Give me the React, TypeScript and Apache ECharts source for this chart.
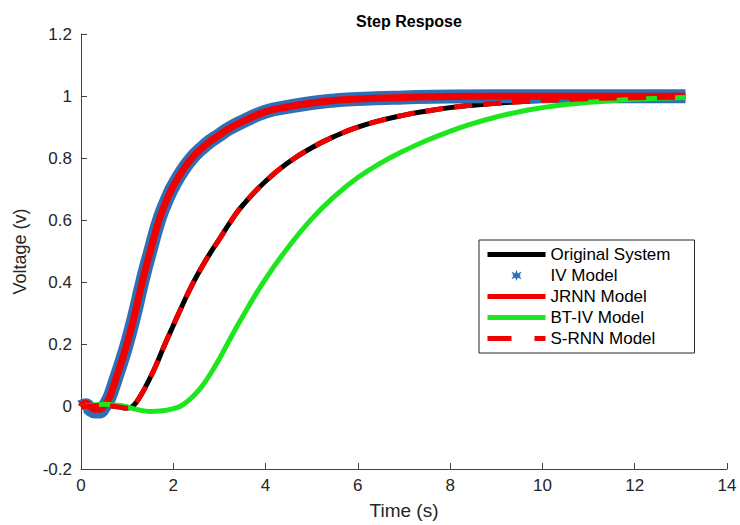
import React, { useEffect, useRef } from "react";
import * as echarts from "echarts";

// ---- Data ----
const timeFast = [0, 0.1, 0.2, 0.3, 0.4, 0.5, 0.6, 0.7, 0.8, 0.9, 1.0, 1.1, 1.2, 1.3, 1.4, 1.5, 1.6, 1.7, 1.8, 1.9, 2.0, 2.2, 2.4, 2.6, 2.8, 3.0, 3.2, 3.5, 4.0, 4.5, 5.0, 5.5, 6.0, 7.0, 8.0, 10.0, 12.0, 13.1];
const ivModel = [0, 0.005, -0.008, -0.015, -0.015, 0.0, 0.025, 0.065, 0.11, 0.155, 0.205, 0.26, 0.32, 0.385, 0.445, 0.5, 0.555, 0.605, 0.645, 0.68, 0.71, 0.76, 0.8, 0.83, 0.855, 0.875, 0.895, 0.918, 0.95, 0.966, 0.978, 0.986, 0.991, 0.996, 0.999, 1.0, 1.0, 1.0];
const jrnnModel = [0, 0.012, 0.002, -0.008, -0.008, 0.004, 0.025, 0.065, 0.11, 0.155, 0.205, 0.26, 0.32, 0.385, 0.445, 0.5, 0.555, 0.605, 0.645, 0.68, 0.71, 0.76, 0.8, 0.83, 0.855, 0.875, 0.895, 0.918, 0.95, 0.966, 0.978, 0.986, 0.991, 0.996, 0.999, 1.0, 1.0, 1.0];

const timeSlow = [0, 0.5, 0.8, 1.0, 1.1, 1.2, 1.3, 1.4, 1.6, 1.8, 2.0, 2.2, 2.4, 2.6, 2.8, 3.0, 3.25, 3.5, 4.0, 4.5, 5.0, 5.5, 6.0, 6.5, 7.0, 7.5, 8.0, 8.5, 9.0, 9.5, 10.0, 11.0, 12.0, 13.1];
const originalSystem = [0, 0.005, 0.0, -0.004, 0.0, 0.015, 0.038, 0.065, 0.125, 0.195, 0.262, 0.328, 0.39, 0.445, 0.495, 0.54, 0.598, 0.648, 0.726, 0.787, 0.834, 0.871, 0.9, 0.922, 0.939, 0.952, 0.963, 0.971, 0.977, 0.982, 0.986, null, null, null];
const srnnModel = [0, 0.005, 0.0, -0.004, 0.0, 0.015, 0.038, 0.065, 0.125, 0.195, 0.262, 0.328, 0.39, 0.445, 0.495, 0.54, 0.598, 0.648, 0.726, 0.787, 0.834, 0.871, 0.9, 0.922, 0.939, 0.952, 0.963, 0.971, 0.977, 0.982, 0.986, 0.992, 0.995, 0.997];

const timeBt = [0, 0.5, 0.8, 1.0, 1.2, 1.5, 1.8, 2.0, 2.2, 2.4, 2.6, 2.8, 3.0, 3.2, 3.5, 4.0, 4.5, 5.0, 5.5, 6.0, 6.5, 7.0, 7.5, 8.0, 8.5, 9.0, 9.5, 10.0, 10.5, 11.0, 12.0, 13.1];
const btIvModel = [0, 0.008, 0.005, 0.0, -0.008, -0.015, -0.012, -0.006, 0.006, 0.03, 0.062, 0.105, 0.155, 0.21, 0.29, 0.412, 0.515, 0.605, 0.678, 0.738, 0.785, 0.824, 0.858, 0.887, 0.912, 0.933, 0.95, 0.963, 0.973, 0.98, 0.99, 0.996];

const seriesNames = ["Original System", "IV Model", "JRNN Model", "BT-IV Model", "S-RNN Model"];
const xTicks = { min: 0, max: 14, interval: 2 };
const yTicks = { min: -0.2, max: 1.2, interval: 0.2 };

const pair = (t: number[], v: (number | null)[]) =>
  t.map((x, i) => [x, v[i]]).filter((p) => p[1] !== null);

const FONT = "'Liberation Sans', Arial, sans-serif";
const STAR =
  "path://M5,0 L6.2,3.2 L9.5,1.5 L7.8,4.8 L10,5 L7.8,5.2 L9.5,8.5 L6.2,6.8 L5,10 L3.8,6.8 L0.5,8.5 L2.2,5.2 L0,5 L2.2,4.8 L0.5,1.5 L3.8,3.2 Z";

export default function App() {
  const ref = useRef<HTMLDivElement>(null);
  useEffect(() => {
    if (!ref.current) return;
    const chart = echarts.init(ref.current, undefined, { renderer: "svg" });
    const hidden = { color: "rgba(0,0,0,0)", borderWidth: 0 };
    chart.setOption({
      animation: false,
      backgroundColor: "#ffffff",
      title: {
        text: "Step Respose",
        left: 404,
        top: 8,
        textAlign: "center",
        textStyle: { fontFamily: FONT, fontSize: 16, fontWeight: "bold", color: "#000" },
      },
      grid: { left: 81, right: 13, top: 34, bottom: 56 },
      legend: {
        orient: "vertical",
        left: 479,
        top: 240,
        padding: [6, 24, 6, 6],
        itemWidth: 58,
        itemHeight: 14,
        itemGap: 4,
        backgroundColor: "#fff",
        borderColor: "#262626",
        borderWidth: 1,
        borderRadius: 0,
        textStyle: { fontFamily: FONT, fontSize: 17, color: "#000" },
        data: [
          { name: seriesNames[0], itemStyle: hidden, lineStyle: { width: 5 } },
          { name: seriesNames[1], lineStyle: { opacity: 0, width: 0 } },
          { name: seriesNames[2], itemStyle: hidden, lineStyle: { width: 5 } },
          { name: seriesNames[3], itemStyle: hidden, lineStyle: { width: 5 } },
          { name: seriesNames[4], itemStyle: hidden, lineStyle: { width: 5, type: [24, 23] } },
        ],
      },
      xAxis: {
        type: "value",
        ...xTicks,
        name: "Time (s)",
        nameLocation: "middle",
        nameGap: 32,
        nameTextStyle: { fontFamily: FONT, fontSize: 19, color: "#262626" },
        axisLine: { show: true, onZero: false, lineStyle: { color: "#404040", width: 1 } },
        axisTick: { show: true, inside: true, length: 6, lineStyle: { color: "#404040" } },
        axisLabel: { fontFamily: FONT, fontSize: 17, color: "#262626", margin: 8 },
        splitLine: { show: false },
      },
      yAxis: {
        type: "value",
        ...yTicks,
        name: "Voltage (v)",
        nameLocation: "middle",
        nameGap: 52,
        nameTextStyle: { fontFamily: FONT, fontSize: 18, color: "#262626" },
        axisLine: { show: true, onZero: false, lineStyle: { color: "#404040", width: 1 } },
        axisTick: { show: true, inside: true, length: 6, lineStyle: { color: "#404040" } },
        axisLabel: {
          fontFamily: FONT,
          fontSize: 17,
          color: "#262626",
          margin: 9,
          formatter: (v: number) => String(Math.round(v * 10) / 10),
        },
        splitLine: { show: false },
      },
      series: [
        {
          name: seriesNames[0],
          type: "line",
          data: pair(timeSlow, originalSystem),
          smooth: 0.5,
          symbol: "none",
          lineStyle: { color: "#000000", width: 5 },
          itemStyle: { color: "#000000" },
        },
        {
          name: seriesNames[1],
          type: "line",
          data: pair(timeFast, ivModel),
          smooth: 0.5,
          symbol: STAR,
          symbolSize: 11,
          showSymbol: false,
          lineStyle: { color: "#2f6fb5", width: 14 },
          itemStyle: { color: "#2f6fb5" },
        },
        {
          name: seriesNames[2],
          type: "line",
          data: pair(timeFast, jrnnModel),
          smooth: 0.5,
          symbol: "none",
          lineStyle: { color: "#f20000", width: 7 },
          itemStyle: { color: "#f20000" },
        },
        {
          name: seriesNames[3],
          type: "line",
          data: pair(timeBt, btIvModel),
          smooth: 0.5,
          symbol: "none",
          lineStyle: { color: "#1ee61e", width: 5 },
          itemStyle: { color: "#1ee61e" },
        },
        {
          name: seriesNames[4],
          type: "line",
          data: pair(timeSlow, srnnModel),
          smooth: 0.5,
          symbol: "none",
          lineStyle: { color: "#f20000", width: 5, type: [18, 11] },
          itemStyle: { color: "#f20000" },
        },
      ],
    });
    return () => chart.dispose();
  }, []);
  return <div ref={ref} style={{ width: 740, height: 525, position: "absolute", left: 0, top: 0 }} />;
}
